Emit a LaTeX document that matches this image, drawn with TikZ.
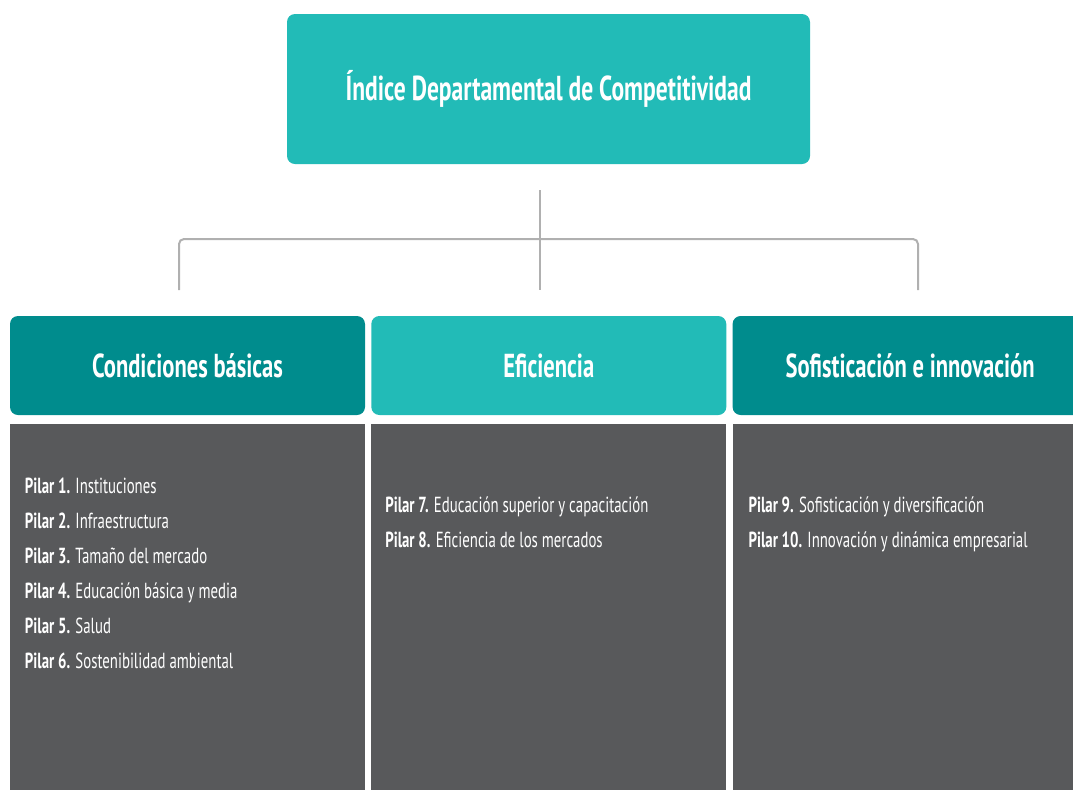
\documentclass[tikz,border=0pt]{standalone}
\usepackage{fontspec}
\setmainfont[FakeStretch=0.68]{PT Sans}
\usetikzlibrary{positioning}
\definecolor{tealclaro}{RGB}{34,187,183}
\definecolor{tealoscuro}{RGB}{0,140,141}
\definecolor{grisfondo}{RGB}{88,89,91}
\definecolor{gristrazo}{RGB}{176,176,176}

\begin{document}
\begin{tikzpicture}[x=0.5pt, y=-0.5pt,
    indice/.style={rectangle, fill=tealclaro, rounded corners=4pt, text=white,
        minimum width=261.5pt, minimum height=75pt,
        font=\bfseries\fontsize{17.3}{19}\selectfont},
    pilar/.style={rectangle, rounded corners=4pt, text=white,
        minimum width=177.5pt, minimum height=49.5pt,
        font=\bfseries\fontsize{16.6}{18}\selectfont},
    cuerpo/.style={rectangle, fill=grisfondo, minimum width=177.5pt,
        minimum height=190pt, anchor=north},
    lista/.style={anchor=north west, inner sep=0pt, text=white, align=left,
        font=\fontsize{10.9}{17.5}\selectfont},
    conector/.style={draw=gristrazo, line width=1pt, rounded corners=2.5pt},
    node distance=2.75pt
]
\clip (0,0) rectangle (1073,789);

\node (Indice) [indice] at (548.5,89) {Índice Departamental de Competitividad};

% pilares
\node (Basicas) [pilar, fill=tealoscuro] at (187.5,365.5) {Condiciones básicas};
\node (Eficiencia) [pilar, fill=tealclaro, right=of Basicas] {Eficiencia};
\node (Sofis) [pilar, fill=tealoscuro, right=of Eficiencia]
  {Sofisticación e innovación};

\node (CuerpoA) [cuerpo, below=4pt of Basicas.south, anchor=north] {};
\node (CuerpoB) [cuerpo, below=4pt of Eficiencia.south, anchor=north] {};
\node (CuerpoC) [cuerpo, below=4pt of Sofis.south, anchor=north] {};

\node (ListaA) [lista] at ([xshift=7.5pt, yshift=-27pt]CuerpoA.north west)
  {\textbf{Pilar 1.} Instituciones\\
   \textbf{Pilar 2.} Infraestructura\\
   \textbf{Pilar 3.} Tamaño del mercado\\
   \textbf{Pilar 4.} Educación básica y media\\
   \textbf{Pilar 5.} Salud\\
   \textbf{Pilar 6.} Sostenibilidad ambiental};
\node (ListaB) [lista] at ([xshift=7pt, yshift=-36.5pt]CuerpoB.north west)
  {\textbf{Pilar 7.} Educación superior y capacitación\\
   \textbf{Pilar 8.} Eficiencia de los mercados};
\node (ListaC) [lista] at ([xshift=8pt, yshift=-36.5pt]CuerpoC.north west)
  {\textbf{Pilar 9.} Sofisticación y diversificación\\
   \textbf{Pilar 10.} Innovación y dinámica empresarial};

% conectores
\coordinate (Tronco) at (540,190);
\coordinate (Cruce) at (540,239);
\coordinate (PieA) at (179,290);
\coordinate (PieB) at (540,290);
\coordinate (PieC) at (918,290);
\draw[conector] (PieA) |- (Cruce) -| (PieC);
\draw[conector] (Tronco) -- (PieB);

\end{tikzpicture}
\end{document}
